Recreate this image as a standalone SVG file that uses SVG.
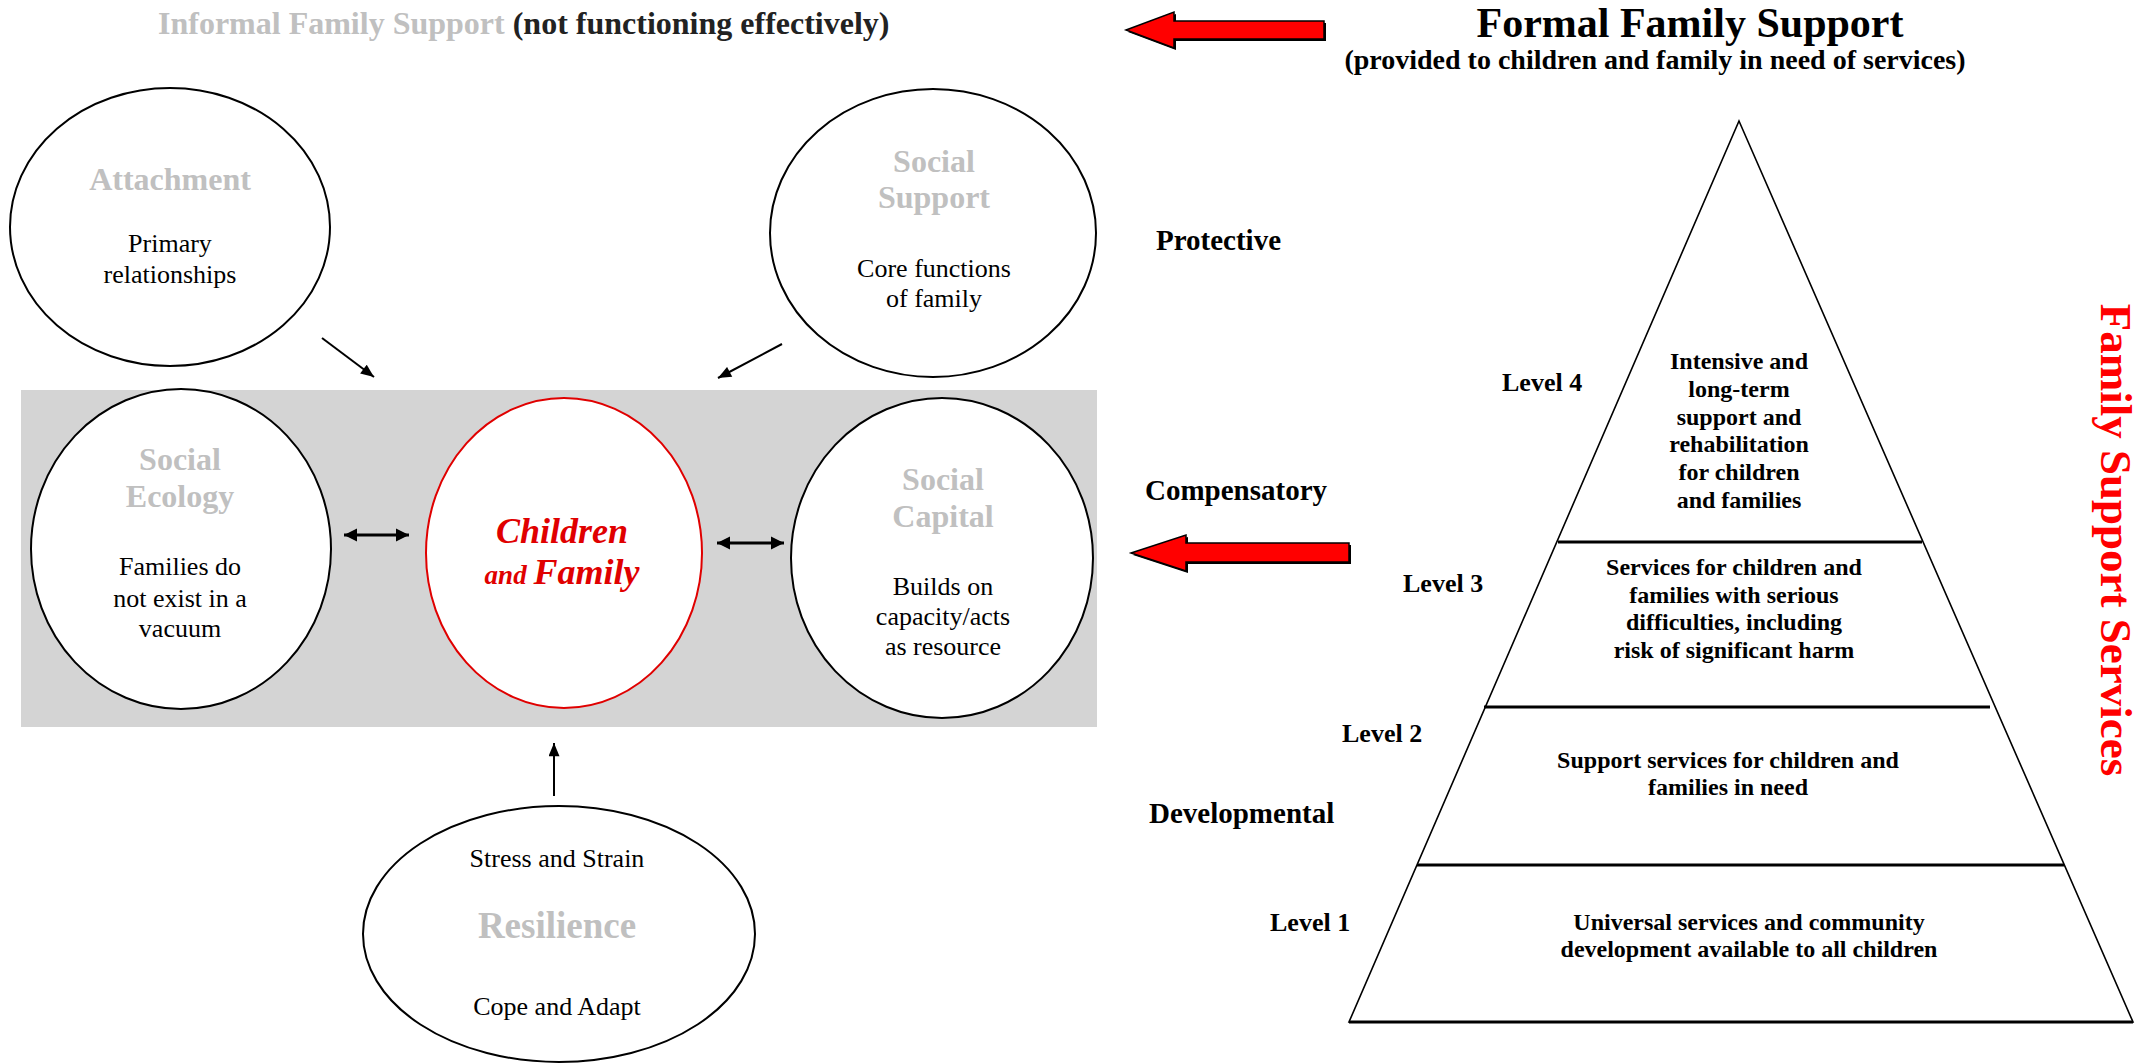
<svg xmlns="http://www.w3.org/2000/svg" width="2150" height="1063" viewBox="0 0 2150 1063">
<style>
text{font-family:"Liberation Serif","Times New Roman",serif;}
.node{fill:#fff;stroke:#000;stroke-width:2;}
.red{fill:#fff;stroke:#e00000;stroke-width:2;}
.head{font-weight:bold;font-size:32px;fill:#c0c0c0;text-anchor:middle;}
.head.big{font-size:37px;}
.body{font-size:26px;fill:#000;text-anchor:middle;}
.lab{font-weight:bold;font-size:29px;fill:#000;}
.lvl{font-weight:bold;font-size:26px;fill:#000;}
.pt{font-weight:bold;font-size:24px;fill:#000;text-anchor:middle;}
.con{stroke:#000;stroke-width:2;fill:none;}
.dbl{stroke:#000;stroke-width:3;fill:none;}
.pyr{fill:none;stroke:#000;stroke-width:1.6;}
.div{stroke:#000;stroke-width:3;}
.bigarrow{fill:#ff0000;stroke:#000;stroke-width:1.5;}
.shadow{fill:#000;}
</style>
<defs>
<marker id="ah" viewBox="0 0 12 10" refX="12" refY="5" markerWidth="14" markerHeight="11" markerUnits="userSpaceOnUse" orient="auto">
<path d="M0,0 L12,5 L0,10 z" fill="#000"/>
</marker>
<marker id="ah2" viewBox="0 0 12 12" refX="12" refY="6" markerWidth="13" markerHeight="15" markerUnits="userSpaceOnUse" orient="auto-start-reverse">
<path d="M0,0 L12,6 L0,12 z" fill="#000"/>
</marker>
</defs>
<rect width="2150" height="1063" fill="#fff"/>

<g id="title-informal">
<text x="158" y="34" font-weight="bold" font-size="32"><tspan fill="#c0c0c0">Informal Family Support </tspan><tspan fill="#222">(not functioning effectively)</tspan></text>
</g>
<g id="title-formal">
<text x="1690" y="37" font-weight="bold" font-size="42" text-anchor="middle">Formal Family Support</text>
<text x="1655" y="69" font-weight="bold" font-size="28" text-anchor="middle">(provided to children and family in need of services)</text>
</g>

<g id="arrow-top">
<polygon class="shadow" points="1128,32 1176,14 1176,23 1326,23 1326,41 1176,41 1176,50"/>
<polygon class="bigarrow" points="1126,30 1174,12 1174,21 1324,21 1324,39 1174,39 1174,48"/>
</g>
<g id="arrow-mid">
<polygon class="shadow" points="1133,555 1188,537 1188,545 1351,545 1351,564 1188,564 1188,573"/>
<polygon class="bigarrow" points="1131,553 1186,535 1186,543 1349,543 1349,562 1186,562 1186,571"/>
</g>

<rect id="context-box" x="21" y="390" width="1076" height="337" fill="#d4d4d4"/>

<g id="attachment">
<ellipse class="node" cx="170" cy="227" rx="160" ry="139"/>
<text class="head" x="170" y="190">Attachment</text>
<text class="body" x="170" y="252">Primary</text>
<text class="body" x="170" y="283">relationships</text>
</g>

<g id="social-support">
<ellipse class="node" cx="933" cy="233" rx="163" ry="144"/>
<text class="head" x="934" y="172">Social</text>
<text class="head" x="934" y="208">Support</text>
<text class="body" x="934" y="277">Core functions</text>
<text class="body" x="934" y="307">of family</text>
</g>

<g id="social-ecology">
<ellipse class="node" cx="181" cy="549" rx="150" ry="160"/>
<text class="head" x="180" y="470">Social</text>
<text class="head" x="180" y="507">Ecology</text>
<text class="body" x="180" y="575">Families do</text>
<text class="body" x="180" y="607">not exist in a</text>
<text class="body" x="180" y="637">vacuum</text>
</g>

<g id="children-family">
<ellipse class="red" cx="564" cy="553" rx="138" ry="155"/>
<text x="562" y="543" font-weight="bold" font-style="italic" font-size="36" fill="#e00000" text-anchor="middle">Children</text>
<text x="562" y="584" font-weight="bold" font-style="italic" fill="#e00000" text-anchor="middle"><tspan font-size="27">and </tspan><tspan font-size="36">Family</tspan></text>
</g>

<g id="social-capital">
<ellipse class="node" cx="942" cy="558" rx="151" ry="160"/>
<text class="head" x="943" y="490">Social</text>
<text class="head" x="943" y="527">Capital</text>
<text class="body" x="943" y="595">Builds on</text>
<text class="body" x="943" y="625">capacity/acts</text>
<text class="body" x="943" y="655">as resource</text>
</g>

<g id="resilience">
<ellipse class="node" cx="559" cy="934" rx="196" ry="128"/>
<text class="body" x="557" y="867">Stress and Strain</text>
<text class="head big" x="557" y="938">Resilience</text>
<text class="body" x="557" y="1015">Cope and Adapt</text>
</g>

<g id="connectors">
<line class="con" x1="322" y1="338" x2="374" y2="377" marker-end="url(#ah)"/>
<line class="con" x1="782" y1="344" x2="718" y2="378" marker-end="url(#ah)"/>
<line class="dbl" x1="344" y1="535" x2="409" y2="535" marker-start="url(#ah2)" marker-end="url(#ah2)"/>
<line class="dbl" x1="717" y1="543" x2="784" y2="543" marker-start="url(#ah2)" marker-end="url(#ah2)"/>
<line class="con" x1="554" y1="796" x2="554" y2="743" marker-end="url(#ah)"/>
</g>

<g id="labels">
<text class="lab" x="1156" y="250">Protective</text>
<text class="lab" x="1145" y="500">Compensatory</text>
<text class="lab" x="1149" y="823">Developmental</text>
</g>

<g id="pyramid">
<polygon class="pyr" points="1739,121 2133,1022 1349,1022"/>
<line class="div" x1="1558" y1="542" x2="1922" y2="542"/>
<line class="div" x1="1484" y1="707" x2="1990" y2="707"/>
<line class="div" x1="1417" y1="865" x2="2064" y2="865"/>
<line class="div" x1="1349" y1="1022" x2="2133" y2="1022"/>
</g>

<g id="level4">
<text class="lvl" x="1502" y="391">Level 4</text>
<text class="pt" x="1739" y="369">Intensive and</text>
<text class="pt" x="1739" y="397">long-term</text>
<text class="pt" x="1739" y="425">support and</text>
<text class="pt" x="1739" y="452">rehabilitation</text>
<text class="pt" x="1739" y="480">for children</text>
<text class="pt" x="1739" y="508">and families</text>
</g>
<g id="level3">
<text class="lvl" x="1403" y="592">Level 3</text>
<text class="pt" x="1734" y="575">Services for children and</text>
<text class="pt" x="1734" y="603">families with serious</text>
<text class="pt" x="1734" y="630">difficulties, including</text>
<text class="pt" x="1734" y="658">risk of significant harm</text>
</g>
<g id="level2">
<text class="lvl" x="1342" y="742">Level 2</text>
<text class="pt" x="1728" y="768">Support services for children and</text>
<text class="pt" x="1728" y="795">families in need</text>
</g>
<g id="level1">
<text class="lvl" x="1270" y="931">Level 1</text>
<text class="pt" x="1749" y="930">Universal services and community</text>
<text class="pt" x="1749" y="957">development available to all children</text>
</g>

<g id="side-label">
<text transform="translate(2101,540) rotate(90)" x="0" y="0" font-weight="bold" font-size="45" fill="#ff0000" text-anchor="middle">Family Support Services</text>
</g>
</svg>
